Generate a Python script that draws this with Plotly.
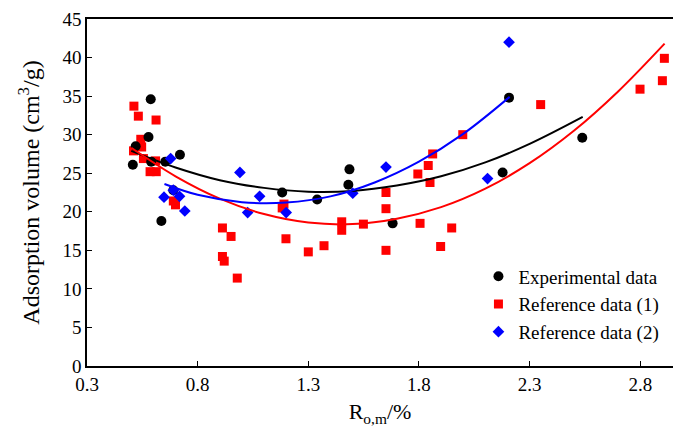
import plotly.graph_objects as go

# Experimental data (black circles)
exp_x = [0.588, 0.578, 0.520, 0.507, 0.590, 0.654, 0.720, 0.690, 0.636, 1.182, 1.340, 1.486, 1.481, 1.681, 2.178, 2.207, 2.538]
exp_y = [34.6, 29.7, 28.5, 26.1, 26.5, 26.5, 27.4, 22.8, 18.8, 22.5, 21.6, 25.5, 23.5, 18.5, 25.1, 34.8, 29.6]

# Reference data (1) (red squares)
ref1_x = [0.512, 0.532, 0.612, 0.543, 0.547, 0.510, 0.610, 0.585, 0.613, 0.555, 0.690, 0.700,
          0.912, 0.951, 0.912, 0.920, 0.979, 1.199, 1.190, 1.182, 1.300, 1.371, 1.451, 1.451,
          1.549, 1.651, 1.651, 1.651, 1.795, 1.805, 1.862, 1.842, 1.850, 1.948, 1.898, 1.998,
          2.350, 2.799, 2.900, 2.909]
ref1_y = [33.7, 32.4, 31.9, 29.4, 28.4, 27.9, 26.6, 25.2, 25.2, 26.9, 21.4, 20.9,
          17.9, 16.8, 14.2, 13.6, 11.4, 16.5, 21.0, 20.5, 14.8, 15.6, 18.7, 17.6,
          18.4, 22.5, 20.4, 15.0, 24.9, 18.5, 27.5, 26.0, 23.8, 17.9, 15.5, 30.0,
          33.9, 35.9, 37.0, 39.9]

# Reference data (2) (blue diamonds)
ref2_x = [0.678, 0.648, 0.690, 0.718, 0.742, 0.991, 1.026, 1.080, 1.200, 1.501, 1.651, 2.110, 2.207]
ref2_y = [26.9, 21.9, 22.8, 22.0, 20.1, 25.1, 19.9, 22.0, 19.9, 22.4, 25.8, 24.3, 42.0]

# Trend curves
exp_fit_x = [0.50, 0.70, 0.90, 1.10, 1.30, 1.50, 1.70, 1.90, 2.10, 2.30, 2.54]
exp_fit_y = [27.9, 25.75, 24.1, 23.1, 22.6, 22.7, 23.4, 24.6, 26.4, 28.8, 32.3]

ref1_fit_x = [0.50, 0.70, 0.90, 1.10, 1.30, 1.50, 1.70, 1.90, 2.10, 2.30, 2.50, 2.70, 2.91]
ref1_fit_y = [28.3, 24.6, 21.7, 19.7, 18.6, 18.4, 19.1, 20.6, 23.0, 26.3, 30.5, 35.6, 41.8]

ref2_fit_x = [0.65, 0.80, 1.00, 1.20, 1.40, 1.60, 1.80, 2.00, 2.21]
ref2_fit_y = [23.6, 22.2, 21.25, 21.2, 22.0, 23.8, 26.5, 30.1, 34.9]

FONT = "Liberation Serif, Times New Roman, Times, DejaVu Serif, serif"

fig = go.Figure()
fig.add_trace(go.Scatter(x=ref1_x, y=ref1_y, mode="markers", name="Reference data (1)",
                         marker=dict(symbol="square", size=9, color="#ff0000")))
fig.add_trace(go.Scatter(x=exp_x, y=exp_y, mode="markers", name="Experimental data",
                         marker=dict(symbol="circle", size=10, color="#000000")))
fig.add_trace(go.Scatter(x=ref2_x, y=ref2_y, mode="markers", name="Reference data (2)",
                         marker=dict(symbol="diamond", size=9, color="#0000ff")))
fig.add_trace(go.Scatter(x=exp_fit_x, y=exp_fit_y, mode="lines", showlegend=False,
                         line=dict(color="#000000", width=2, shape="spline")))
fig.add_trace(go.Scatter(x=ref1_fit_x, y=ref1_fit_y, mode="lines", showlegend=False,
                         line=dict(color="#ff0000", width=2, shape="spline")))
fig.add_trace(go.Scatter(x=ref2_fit_x, y=ref2_fit_y, mode="lines", showlegend=False,
                         line=dict(color="#0000ff", width=2, shape="spline")))

fig.update_layout(
    width=673, height=430,
    margin=dict(l=87, r=0, t=19, b=64),
    paper_bgcolor="white", plot_bgcolor="white",
    font=dict(family=FONT, size=19, color="black"),
    showlegend=True,
    legend=dict(x=0.668, y=0.313, xanchor="left", yanchor="top",
                font=dict(family=FONT, size=19, color="black"),
                bgcolor="rgba(0,0,0,0)", traceorder="normal", tracegroupgap=0,
                itemwidth=30),
    xaxis=dict(range=[0.3, 2.948], tickvals=[0.3, 0.8, 1.3, 1.8, 2.3, 2.8],
               ticktext=["0.3", "0.8", "1.3", "1.8", "2.3", "2.8"],
               showgrid=False, zeroline=False, showline=True, linecolor="black", linewidth=1.5,
               mirror=True, ticks="inside", ticklen=5, tickwidth=1.2, tickcolor="black",
               tickfont=dict(family=FONT, size=19),
               title=dict(text="R<sub>o,m</sub>/%", font=dict(family=FONT, size=22), standoff=10)),
    yaxis=dict(range=[0, 45], tickvals=[0, 5, 10, 15, 20, 25, 30, 35, 40, 45],
               showgrid=False, zeroline=False, showline=True, linecolor="black", linewidth=1.5,
               ticks="inside", ticklen=5, tickwidth=1.2, tickcolor="black",
               tickfont=dict(family=FONT, size=19),
               title=dict(text="Adsorption volume (cm<sup>3</sup>/g)", font=dict(family=FONT, size=24), standoff=16)),
)

# Legend order as in the reference: Experimental, Ref (1), Ref (2)
fig.data[0].legendrank = 2
fig.data[1].legendrank = 1
fig.data[2].legendrank = 3

fig.write_html("out.html")
